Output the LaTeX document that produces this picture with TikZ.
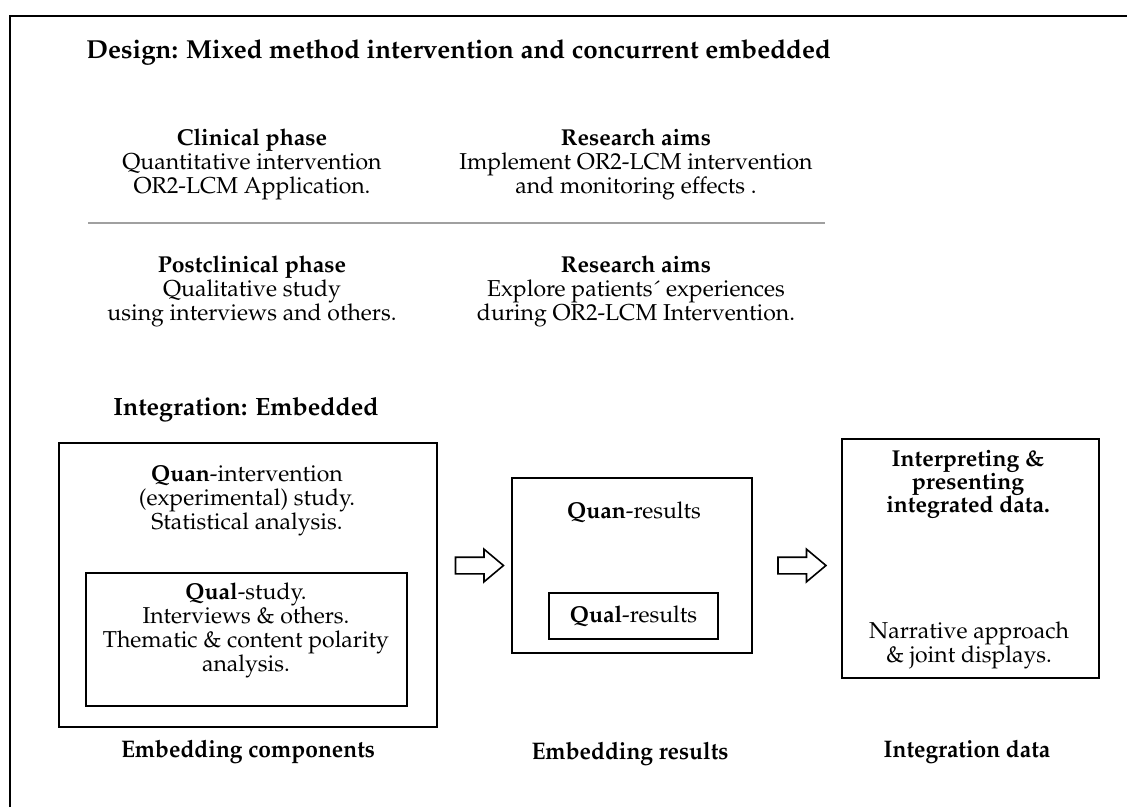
\documentclass[tikz,border=0pt]{standalone}
\usepackage[T1]{fontenc}
\usepackage{mathpazo}
\usetikzlibrary{shapes.arrows, calc, positioning}
\definecolor{rulecol}{HTML}{A0A0A0}

\tikzset{
  frameline/.style={line width=1.2pt, black},
  boxline/.style={draw, line width=1.1pt, inner sep=0pt},
  toptxt/.style={align=center, inner sep=0pt, font=\fontsize{11.5}{12}\selectfont},
  headtxt/.style={inner sep=0pt, font=\fontsize{13}{15}\selectfont\bfseries},
  boxtxt/.style={align=center, inner sep=0pt, font=\fontsize{11.5}{12}\selectfont},
  steplabel/.style={inner sep=0pt, font=\fontsize{12}{14}\selectfont\bfseries, xscale=0.95, transform shape},
  blockarrow/.style={draw, line width=0.8pt, single arrow, inner xsep=0pt, inner ysep=3.75pt,
    minimum height=24pt, single arrow head extend=4pt, single arrow tip angle=80},
}

\begin{document}
\begin{tikzpicture}[x=0.5pt, y=-0.5pt]
\useasboundingbox (0,0) rectangle (1127,807);
% outer frame (only top and left edges show)
\draw[frameline] (10,807) -- (10,16) -- (1127,16);

% design part
\node[headtxt, anchor=west] (design) at (86,52) {Design: Mixed method intervention and concurrent embedded};
\node[toptxt] (clinical) at (252,164) {\textbf{Clinical phase}\\Quantitative intervention\\OR2-LCM Application.};
\node[toptxt] (aimsA) at (636,164) {\textbf{Research aims}\\Implement OR2-LCM intervention\\and monitoring effects .};
\draw[rulecol, line width=1pt] (88,223) -- (825,223);
\node[toptxt] (postclin) at (252,291) {\textbf{Postclinical phase}\\Qualitative study\\using interviews and others.};
\node[toptxt] (aimsB) at (636,291) {\textbf{Research aims}\\Explore patients\'{} experiences\\during OR2-LCM Intervention.};

% integration part
\node[inner sep=0pt, font=\fontsize{12.5}{14}\selectfont\bfseries, anchor=west] (integ) at (113,410) {Integration: Embedded};

\node[boxline, minimum width=189pt, minimum height=142pt] (quanbox) at (248,585) {};
\node[boxtxt] (quantxt) at (247,501) {\textbf{Quan}-intervention\\(experimental) study.\\Statistical analysis.};
\node[boxline, minimum width=160.5pt, minimum height=66.5pt] (qualbox) at (246.5,639.5) {};
\node[boxtxt] (qualtxt) at (246,630.5) {\textbf{Qual}-study.\\Interviews \& others.\\Thematic \& content polarity\\analysis.};

\node[boxline, minimum width=120pt, minimum height=87.5pt] (resbox) at (632,565.5) {};
\node[boxtxt] (quanres) at (634,512) {\textbf{Quan}-results};
\node[boxline, boxtxt, minimum width=84.5pt, minimum height=23pt] (qualres) at (633.5,616) {\textbf{Qual}-results};

\node[boxline, minimum width=128.5pt, minimum height=119.5pt] (databox) at (970.5,558.5) {};
\node[boxtxt, font=\fontsize{11.5}{11.5}\selectfont\bfseries] (interp) at (968,484) {Interpreting \&\\presenting\\integrated data.};
\node[boxtxt] (narrative) at (969,645) {Narrative approach\\\& joint displays.};

% arrows between the stages
\node[blockarrow] (arrA) at ($(quanbox.east |- resbox.center)!0.5!(resbox.west)$) {};
\node[blockarrow] (arrB) at ($(resbox.east)!0.5!(databox.west |- resbox.east)$) {};

% stage labels
\node[steplabel] (lblA) at (248,752) {Embedding components};
\node[steplabel] (lblB) at (630,754) {Embedding results};
\node[steplabel] (lblC) at (967,752) {Integration data};
\end{tikzpicture}
\end{document}
